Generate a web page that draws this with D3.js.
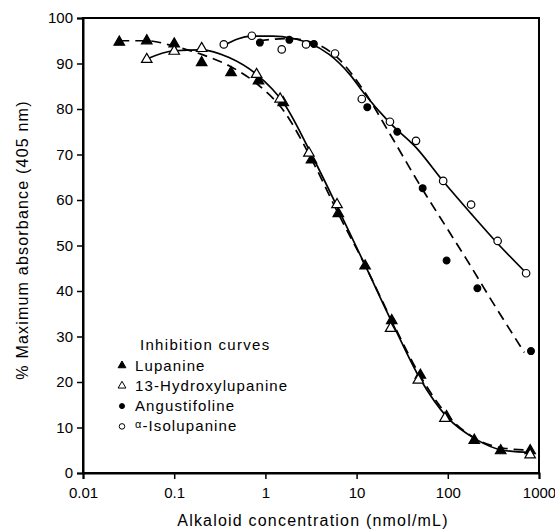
<!DOCTYPE html>
<html>
<head>
<meta charset="utf-8">
<script src="https://cdn.jsdelivr.net/npm/d3@7"></script>
<style>
  body { margin: 0; background: #fff; }
  svg { display: block; }
  text { font-family: "Liberation Sans", Arial, Helvetica, sans-serif; fill: #000; }
  .axis path, .axis line { stroke: #000; }
  .axis text { font-size: 15px; }
</style>
</head>
<body>
<script>
(function(){

    //tick labels
    var xTicks = [0.01, 0.1, 1, 10, 100, 1000],
        xTickLabels = ["0.01", "0.1", "1", "10", "100", "1000"],
        yTicks = [0, 10, 20, 30, 40, 50, 60, 70, 80, 90, 100];

    //Lupanine (filled triangles)
    var lupConc = [0.025, 0.05, 0.1, 0.2, 0.42, 0.84, 1.57, 3.2, 6.3, 12.4, 24.3, 50, 97, 195, 380, 800],
        lupVal  = [94.7, 95, 94.3, 90.2, 88, 86.2, 81.4, 68.8, 57, 45.5, 33.5, 21.5, 12.4, 7.2, 4.9, 4.9];

    //13-Hydroxylupanine (open triangles)
    var hydConc = [0.05, 0.1, 0.2, 0.8, 1.45, 3.0, 6.1, 23.6, 47.5, 93, 800],
        hydVal  = [90.9, 92.7, 93.3, 87.6, 82.2, 70.3, 59, 31.8, 20.4, 12, 4];

    //Angustifoline (filled circles)
    var angConc = [0.87, 1.83, 3.4, 13.1, 27.9, 53, 97, 211, 817],
        angVal  = [94.6, 95.2, 94.3, 80.4, 75, 62.6, 46.7, 40.6, 26.8];

    //alpha-Isolupanine (open circles)
    var isoConc = [0.35, 0.71, 1.51, 2.79, 5.8, 11.4, 23.2, 44.8, 89, 180, 352, 722],
        isoVal  = [94.2, 96.1, 93.1, 94.2, 92.2, 82.2, 77.2, 73, 64.2, 59, 51, 43.9];

    //fitted curves
    var lupCurveConc = [0.025, 0.05, 0.1, 0.2, 0.4, 0.8, 1.6, 3.2, 6.3, 12.5, 25, 50, 100, 200, 400, 800],
        lupCurveVal  = [95, 95, 93.8, 92, 89.5, 85.6, 79.5, 69, 57, 45.5, 33, 21.3, 12.6, 7.6, 5.5, 5];
    var hydCurveConc = [0.05, 0.1, 0.2, 0.4, 0.8, 1.6, 3.2, 6.3, 12.5, 25, 50, 100, 200, 400, 800],
        hydCurveVal  = [91, 92.8, 93, 91.3, 87.6, 81.2, 70, 58, 45.5, 32.7, 20.6, 12.1, 7.5, 5, 4.5];
    var angCurveConc = [0.85, 1.8, 3.4, 6, 12, 24, 48, 100, 160, 300, 690],
        angCurveVal  = [95, 95.5, 94.5, 91.5, 84, 74, 63.7, 53.5, 47, 38, 26.5];
    var isoCurveConc = [0.35, 0.7, 1.2, 2, 3, 5, 8.5, 12, 23, 45, 90, 180, 350, 720],
        isoCurveVal  = [94, 96, 96, 95.5, 94.5, 92, 87.5, 83.5, 77, 71.5, 64, 57, 50.5, 44];

    var legendNames = ["Lupanine", "13-Hydroxylupanine", "Angustifoline", "-Isolupanine"];

    var width = 555,
        height = 531,
        margin = {top: 18, right: 16, bottom: 58, left: 83};

    var svg = d3.select("body")
        .append("svg")
        .attr("width", width)
        .attr("height", height);

    var x = d3.scaleLog().domain([0.01, 1000]).range([margin.left, width - margin.right]);
    var y = d3.scaleLinear().domain([0, 100]).range([height - margin.bottom, margin.top]);

    //frame
    svg.append("rect")
        .attr("x", x(0.01))
        .attr("y", y(100))
        .attr("width", x(1000) - x(0.01))
        .attr("height", y(0) - y(100))
        .attr("fill", "none")
        .attr("stroke", "#000")
        .attr("stroke-width", 2);

    //x axis
    var xAxis = svg.append("g")
        .attr("class", "axis")
        .attr("transform", "translate(0," + y(0) + ")")
        .call(d3.axisBottom(x)
            .tickValues(xTicks)
            .tickFormat(function(d, i){ return xTickLabels[i]; })
            .tickSize(6)
            .tickPadding(8));
    xAxis.select(".domain").attr("stroke-width", 2);
    xAxis.selectAll(".tick line").attr("stroke-width", 1.5);

    //y axis
    var yAxis = svg.append("g")
        .attr("class", "axis")
        .attr("transform", "translate(" + x(0.01) + ",0)")
        .call(d3.axisLeft(y)
            .tickValues(yTicks)
            .tickSize(6)
            .tickPadding(4));
    yAxis.select(".domain").attr("stroke-width", 2);
    yAxis.selectAll(".tick line").attr("stroke-width", 1.5);

    //axis titles
    svg.append("text")
        .attr("x", (x(0.01) + x(1000)) / 2 + 2)
        .attr("y", 526)
        .attr("text-anchor", "middle")
        .style("font-size", "16px")
        .style("letter-spacing", "1.2px")
        .text("Alkaloid concentration (nmol/mL)");

    svg.append("text")
        .attr("transform", "translate(28," + 240 + ")rotate(-90)")
        .attr("text-anchor", "middle")
        .style("font-size", "16px")
        .style("letter-spacing", "1.2px")
        .text("% Maximum absorbance (405 nm)");

    //curves
    var line = d3.line()
        .x(function(d){ return x(d[0]); })
        .y(function(d){ return y(d[1]); })
        .curve(d3.curveMonotoneX);

    var curves = [
        {conc: lupCurveConc, val: lupCurveVal, dash: "10,6"},
        {conc: hydCurveConc, val: hydCurveVal, dash: null},
        {conc: angCurveConc, val: angCurveVal, dash: "10,6"},
        {conc: isoCurveConc, val: isoCurveVal, dash: null}
    ];

    svg.selectAll(".curve")
        .data(curves)
        .enter()
        .append("path")
        .attr("class", "curve")
        .attr("d", function(c){ return line(d3.zip(c.conc, c.val)); })
        .attr("fill", "none")
        .attr("stroke", "#000")
        .attr("stroke-width", 1.7)
        .attr("stroke-dasharray", function(c){ return c.dash; });

    //markers
    var series = [
        {conc: lupConc, val: lupVal, type: d3.symbolTriangle, fill: "#000", size: 48},
        {conc: hydConc, val: hydVal, type: d3.symbolTriangle, fill: "#fff", size: 48},
        {conc: angConc, val: angVal, type: d3.symbolCircle, fill: "#000", size: 36},
        {conc: isoConc, val: isoVal, type: d3.symbolCircle, fill: "#fff", size: 44}
    ];

    series.forEach(function(s){
        svg.append("g")
            .selectAll("path")
            .data(d3.zip(s.conc, s.val))
            .enter()
            .append("path")
            .attr("transform", function(d){ return "translate(" + x(d[0]) + "," + y(d[1]) + ")"; })
            .attr("d", d3.symbol().type(s.type).size(s.size))
            .attr("fill", s.fill)
            .attr("stroke", "#000")
            .attr("stroke-width", 1.2);
    });

    //legend
    var legend = svg.append("g").attr("class", "legend");

    legend.append("text")
        .attr("x", 140)
        .attr("y", 350)
        .style("font-size", "15px")
        .style("letter-spacing", "1.3px")
        .text("Inhibition curves");

    var item = legend.selectAll(".item")
        .data(series)
        .enter()
        .append("g")
        .attr("class", "item")
        .attr("transform", function(d, i){ return "translate(0," + (370.5 + i * 20.3) + ")"; });

    item.append("path")
        .attr("transform", "translate(122,-5)")
        .attr("d", function(s){ return d3.symbol().type(s.type).size(s.size * 0.55)(); })
        .attr("fill", function(s){ return s.fill; })
        .attr("stroke", "#000")
        .attr("stroke-width", 1);

    item.append("text")
        .attr("x", 135)
        .style("font-size", "15px")
        .style("letter-spacing", "1.1px")
        .each(function(s, i){
            var t = d3.select(this);
            if (i == 3) {
                t.append("tspan")
                    .attr("dy", -3)
                    .style("font-size", "11px")
                    .text("\u03b1");
                t.append("tspan")
                    .attr("dy", 3)
                    .text(legendNames[i]);
            } else {
                t.text(legendNames[i]);
            }
        });

})();
</script>
</body>
</html>
